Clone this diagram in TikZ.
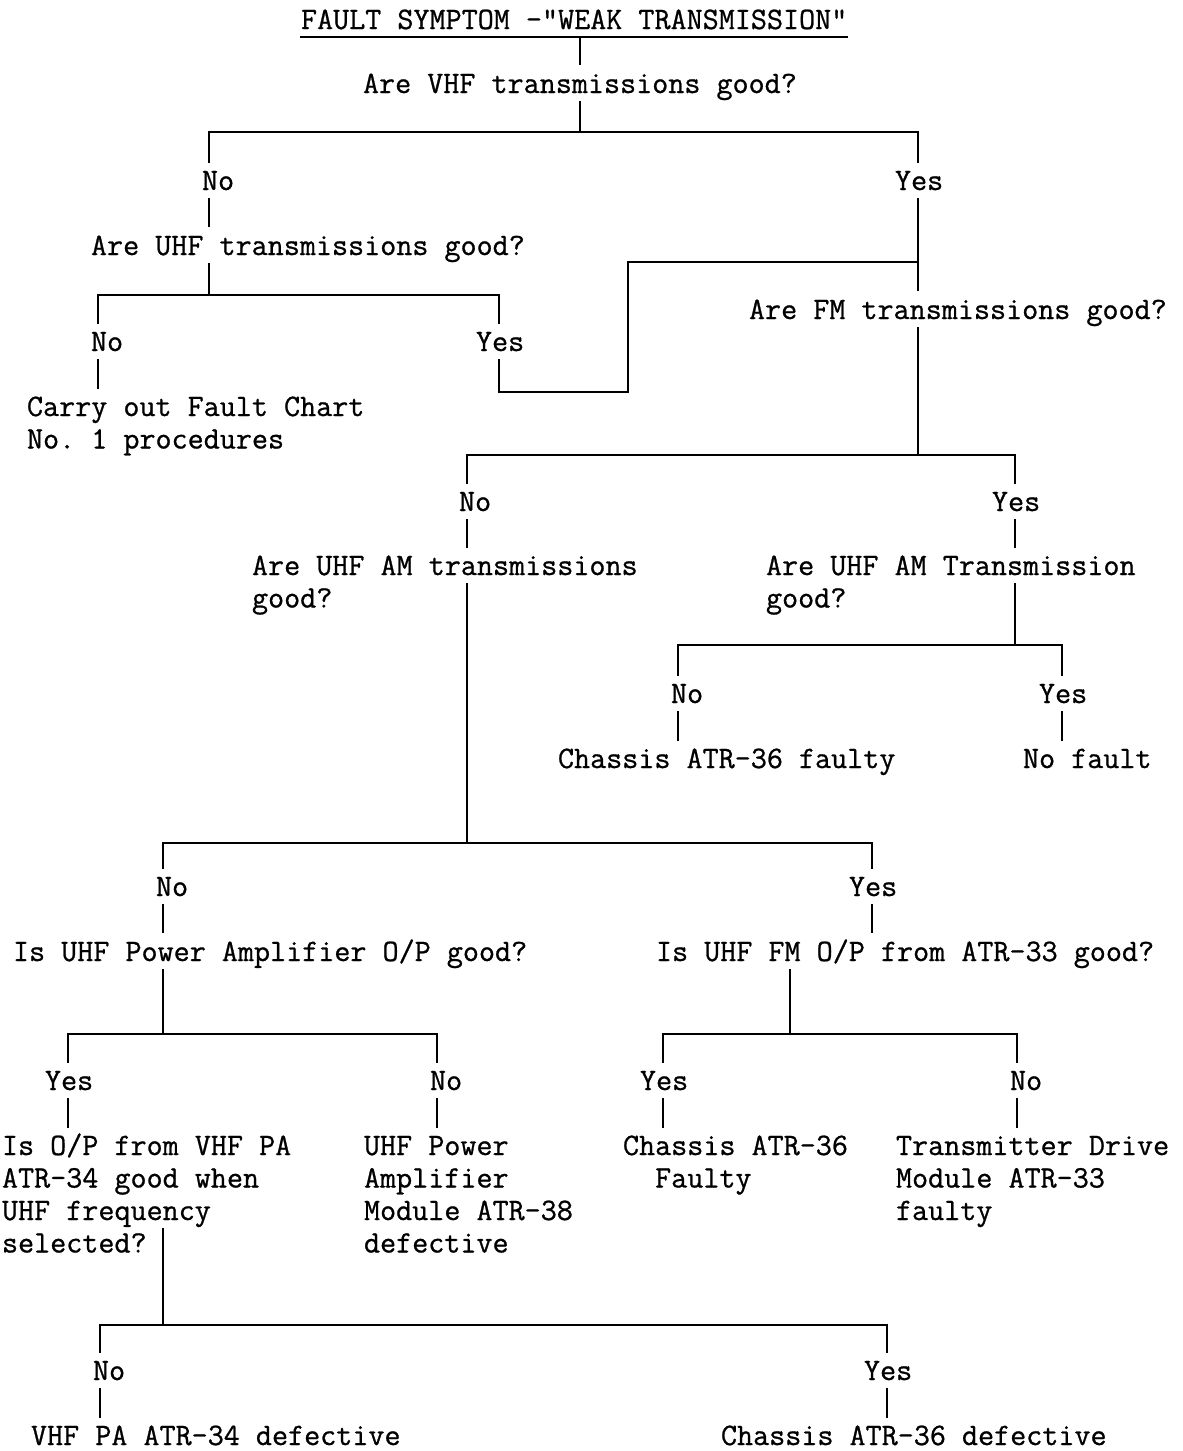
\documentclass[tikz,border=0pt]{standalone}
\usepackage{fontspec}
\setmonofont{lmmono12-regular.otf}[FakeBold=0.8]
\begin{document}
\begin{tikzpicture}[x=1pt, y=-1pt, line width=2pt,
  txt/.style={font=\fontsize{31.2}{32.5}\selectfont\ttfamily, inner xsep=0pt, inner ysep=0pt, anchor=base west},
  ques/.style={txt, text height=27pt, text depth=7pt},
  lbl/.style={txt, text height=26pt, text depth=7pt},
  multi/.style={txt, inner ysep=3pt}]
\useasboundingbox (0,0) rectangle (1183,1451);
\fill[white] (0,0) rectangle (1183,1451);

% ---- text ----
\node[txt, text depth=7pt] (title) at (300,29) {FAULT SYMPTOM -"WEAK TRANSMISSION"};
\node[ques] (q1) at (362,93) {Are VHF transmissions good?};
\node[lbl] (n1) at (201,190) {No};
\node[lbl] (y1) at (894,190) {Yes};
\node[ques] (q2) at (90,255) {Are UHF transmissions good?};
\node[lbl] (n2) at (90,351) {No};
\node[lbl] (y2) at (475,351) {Yes};
\node[multi] (r1) at (26,416) {\begin{tabular}[t]{@{}l@{}}Carry out Fault Chart\\No. 1 procedures\end{tabular}};
\node[ques] (q3) at (748,319) {Are FM transmissions good?};
\node[lbl] (n3) at (458,511) {No};
\node[lbl] (y3) at (991,511) {Yes};
\node[multi] (q4) at (251,575) {\begin{tabular}[t]{@{}l@{}}Are UHF AM transmissions\\good?\end{tabular}};
\node[multi] (q5) at (765,575) {\begin{tabular}[t]{@{}l@{}}Are UHF AM Transmission\\good?\end{tabular}};
\node[lbl] (n4) at (670,703) {No};
\node[lbl] (y4) at (1038,703) {Yes};
\node[lbl] (r2) at (557,768) {Chassis ATR-36 faulty};
\node[lbl] (r3) at (1022,768) {No fault};
\node[lbl] (n5) at (155,896) {No};
\node[lbl] (y5) at (848,896) {Yes};
\node[ques] (q6) at (12,961) {Is UHF Power Amplifier O/P good?};
\node[ques] (q7) at (655,961) {Is UHF FM O/P from ATR-33 good?};
\node[lbl] (y6) at (44,1090) {Yes};
\node[lbl] (n6) at (429,1090) {No};
\node[lbl] (y7) at (639,1090) {Yes};
\node[lbl] (n7) at (1009,1090) {No};
\node[multi] (q8) at (1,1155) {\begin{tabular}[t]{@{}l@{}}Is O/P from VHF PA\\ATR-34 good when\\UHF frequency\\selected?\end{tabular}};
\node[multi] (r4) at (363,1155) {\begin{tabular}[t]{@{}l@{}}UHF Power\\Amplifier\\Module ATR-38\\defective\end{tabular}};
\node[multi] (r5) at (622,1155) {\begin{tabular}[t]{@{}l@{}}Chassis ATR-36\\\hphantom{xx}Faulty\end{tabular}};
\node[multi] (r6) at (895,1155) {\begin{tabular}[t]{@{}l@{}}Transmitter Drive\\Module ATR-33\\faulty\end{tabular}};
\node[lbl] (n8) at (92,1380) {No};
\node[lbl] (y8) at (863,1380) {Yes};
\node[lbl] (r7) at (30,1445) {VHF PA ATR-34 defective};
\node[lbl] (r8) at (720,1445) {Chassis ATR-36 defective};

% ---- junction points ----
\coordinate (t0) at (580,0);
\coordinate (b1L) at (209,132);  \coordinate (b1R) at (918,132);
\coordinate (b2L) at (98,295);   \coordinate (b2R) at (499,295);
\coordinate (k1) at (628,392);   \coordinate (k2) at (628,262);
\coordinate (b3L) at (467,455);  \coordinate (b3R) at (1015,455);
\coordinate (q4o) at (467,583);  \coordinate (q5o) at (1015,583);
\coordinate (b4L) at (678,645);  \coordinate (b4R) at (1062,645);
\coordinate (b5L) at (163,843);  \coordinate (b5R) at (872,843);
\coordinate (c7) at (790,1034);
\coordinate (b6L) at (68,1034);  \coordinate (b6R) at (437,1034);
\coordinate (b7L) at (663,1034); \coordinate (b7R) at (1017,1034);
\coordinate (q8o) at (163,1228);
\coordinate (b8L) at (100,1325); \coordinate (b8R) at (887,1325);

% ---- connectors ----
\draw (title.south west) -- (title.south east);
\draw (t0 |- title.south) -- (t0 |- q1.north);
\draw (t0 |- q1.south) -- (t0 |- b1L);
\draw (b1L |- n1.north) -- (b1L) -- (b1R) -- (b1R |- y1.north);
\draw (b1L |- n1.south) -- (b1L |- q2.north);
\draw (b1L |- q2.south) -- (b1L |- b2L);
\draw (b2L |- n2.north) -- (b2L) -- (b2R) -- (b2R |- y2.north);
\draw (b2L |- n2.south) -- (b2L |- r1.north);
\draw (b2R |- y2.south) -- (b2R |- k1) -- (k1) -- (k2) -- (b1R |- k2);
\draw (b1R |- y1.south) -- (b1R |- q3.north);
\draw (b1R |- q3.south) -- (b1R |- b3L);
\draw (b3L |- n3.north) -- (b3L) -- (b3R) -- (b3R |- y3.north);
\draw (b3L |- n3.south) -- (b3L |- q4.north);
\draw (b3R |- y3.south) -- (b3R |- q5.north);
\draw (q5o) -- (q5o |- b4L);
\draw (b4L |- n4.north) -- (b4L) -- (b4R) -- (b4R |- y4.north);
\draw (b4L |- n4.south) -- (b4L |- r2.north);
\draw (b4R |- y4.south) -- (b4R |- r3.north);
\draw (q4o) -- (q4o |- b5L);
\draw (b5L |- n5.north) -- (b5L) -- (b5R) -- (b5R |- y5.north);
\draw (b5L |- n5.south) -- (b5L |- q6.north);
\draw (b5R |- y5.south) -- (b5R |- q7.north);
\draw (b5L |- q6.south) -- (b5L |- b6L);
\draw (c7 |- q7.south) -- (c7);
\draw (b6L |- y6.north) -- (b6L) -- (b6R) -- (b6R |- n6.north);
\draw (b6L |- y6.south) -- (b6L |- q8.north);
\draw (b6R |- n6.south) -- (b6R |- r4.north);
\draw (b7L |- y7.north) -- (b7L) -- (b7R) -- (b7R |- n7.north);
\draw (b7L |- y7.south) -- (b7L |- r5.north);
\draw (b7R |- n7.south) -- (b7R |- r6.north);
\draw (q8o) -- (q8o |- b8L);
\draw (b8L |- n8.north) -- (b8L) -- (b8R) -- (b8R |- y8.north);
\draw (b8L |- n8.south) -- (b8L |- r7.north);
\draw (b8R |- y8.south) -- (b8R |- r8.north);
\end{tikzpicture}
\end{document}
